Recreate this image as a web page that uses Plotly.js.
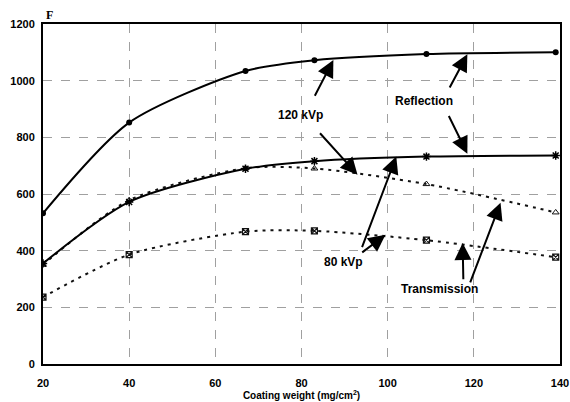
<!DOCTYPE html>
<html><head><meta charset="utf-8">
<script src="https://cdn.plot.ly/plotly-3.0.1.min.js"></script>
<style>html,body{margin:0;padding:0;background:#fff}#c{width:570px;height:402px}</style>
</head><body><div id="c"></div>
<script>
const coatingWeight = [20, 40, 67, 83, 109, 139];
const refl120 = [532, 852, 1034, 1072, 1094, 1100];
const refl80  = [355, 572, 689, 716, 732, 736];
const trans120 = [350, 578, 691, 690, 635, 535];
const trans80  = [236, 386, 467, 470, 437, 377];
const xTicks = [20, 40, 60, 80, 100, 120, 140];
const yTicks = [0, 200, 400, 600, 800, 1000, 1200];
const labels = ["120 kVp", "Reflection", "80 kVp", "Transmission"];

const FONT = "Liberation Sans, Arial, sans-serif";
const SM = 0.75;
const traces = [
  {x: coatingWeight, y: trans120, mode: "lines+markers", line: {color: "#111", width: 2, dash: "3px,5px", shape: "spline", smoothing: SM},
   marker: {symbol: "triangle-up-open", size: 6, color: "#111", line: {width: 1}}},
  {x: coatingWeight, y: trans80, mode: "lines+markers", line: {color: "#111", width: 2, dash: "3px,5px", shape: "spline", smoothing: SM},
   marker: {symbol: "square-x-open", size: 6, color: "#111", line: {width: 1.2}}},
  {x: coatingWeight, y: refl80, mode: "lines+markers", line: {color: "#000", width: 2, shape: "spline", smoothing: SM},
   marker: {symbol: "asterisk-open", size: 7, color: "#000", line: {width: 1.5, color: "#000"}}},
  {x: coatingWeight, y: refl120, mode: "lines+markers", line: {color: "#000", width: 2, shape: "spline", smoothing: SM},
   marker: {symbol: "circle", size: 6, color: "#000"}}
];

function arrow(tx, ty, hx, hy) {
  return {x: hx, y: hy, ax: tx, ay: ty, xref: "x", yref: "y", axref: "x", ayref: "y",
    text: " ", showarrow: true, arrowhead: 2, arrowsize: 1.7, arrowwidth: 2, arrowcolor: "#000", standoff: 0, startstandoff: 0};
}
function label(t, x, y) {
  return {x: x, y: y, xref: "x", yref: "y", text: t, showarrow: false,
    font: {family: FONT, size: 12, color: "#000", weight: "bold"}, bgcolor: "rgba(0,0,0,0)"};
}
const annotations = [
  arrow(82.4, 926, 87.4, 1073),
  arrow(83.6, 826, 93.0, 668),
  arrow(113.7, 956, 118.5, 1093),
  arrow(113.5, 897, 118.5, 742),
  arrow(93.4, 386, 102.0, 732),
  arrow(93.4, 386, 99.5, 456),
  arrow(117.6, 273, 117.4, 427),
  arrow(118.5, 262, 126.2, 569),
  label(labels[0], 79.7, 879),
  label(labels[1], 108.4, 930),
  label(labels[2], 89.8, 360),
  label(labels[3], 112, 265),
  {x: 0.012, y: 1.0, xref: "paper", yref: "paper", xanchor: "center", yanchor: "bottom", text: "F", showarrow: false,
   font: {family: "Liberation Serif, Times New Roman, serif", size: 12, color: "#000", weight: "bold"}}
];

const layout = {
  width: 570, height: 402,
  margin: {l: 43, r: 10, t: 24, b: 38},
  paper_bgcolor: "#fff", plot_bgcolor: "#fff",
  showlegend: false,
  font: {family: FONT, size: 11, color: "#000"},
  xaxis: {range: [20, 140], tickvals: xTicks, ticktext: xTicks.map(String), showgrid: true, gridcolor: "#a0a0a0", griddash: "dash", gridwidth: 1,
    showline: true, linecolor: "#000", linewidth: 2, mirror: true, zeroline: false, ticks: "", ticklen: 0, ticklabelstandoff: 8,
    tickfont: {family: FONT, size: 11, weight: "bold"},
    title: {text: "Coating weight (mg/cm<sup>2</sup>)", font: {family: FONT, size: 10, weight: "bold"}, standoff: 4}},
  yaxis: {range: [0, 1200], tickvals: yTicks, ticktext: yTicks.map(String), showgrid: true, gridcolor: "#a0a0a0", griddash: "dash", gridwidth: 1,
    showline: true, linecolor: "#000", linewidth: 2, mirror: true, zeroline: false, ticks: "", ticklen: 0, ticklabelstandoff: 4,
    tickfont: {family: FONT, size: 11, weight: "bold"}},
  annotations: annotations
};
Plotly.newPlot("c", traces, layout, {displayModeBar: false, staticPlot: true});
</script></body></html>
